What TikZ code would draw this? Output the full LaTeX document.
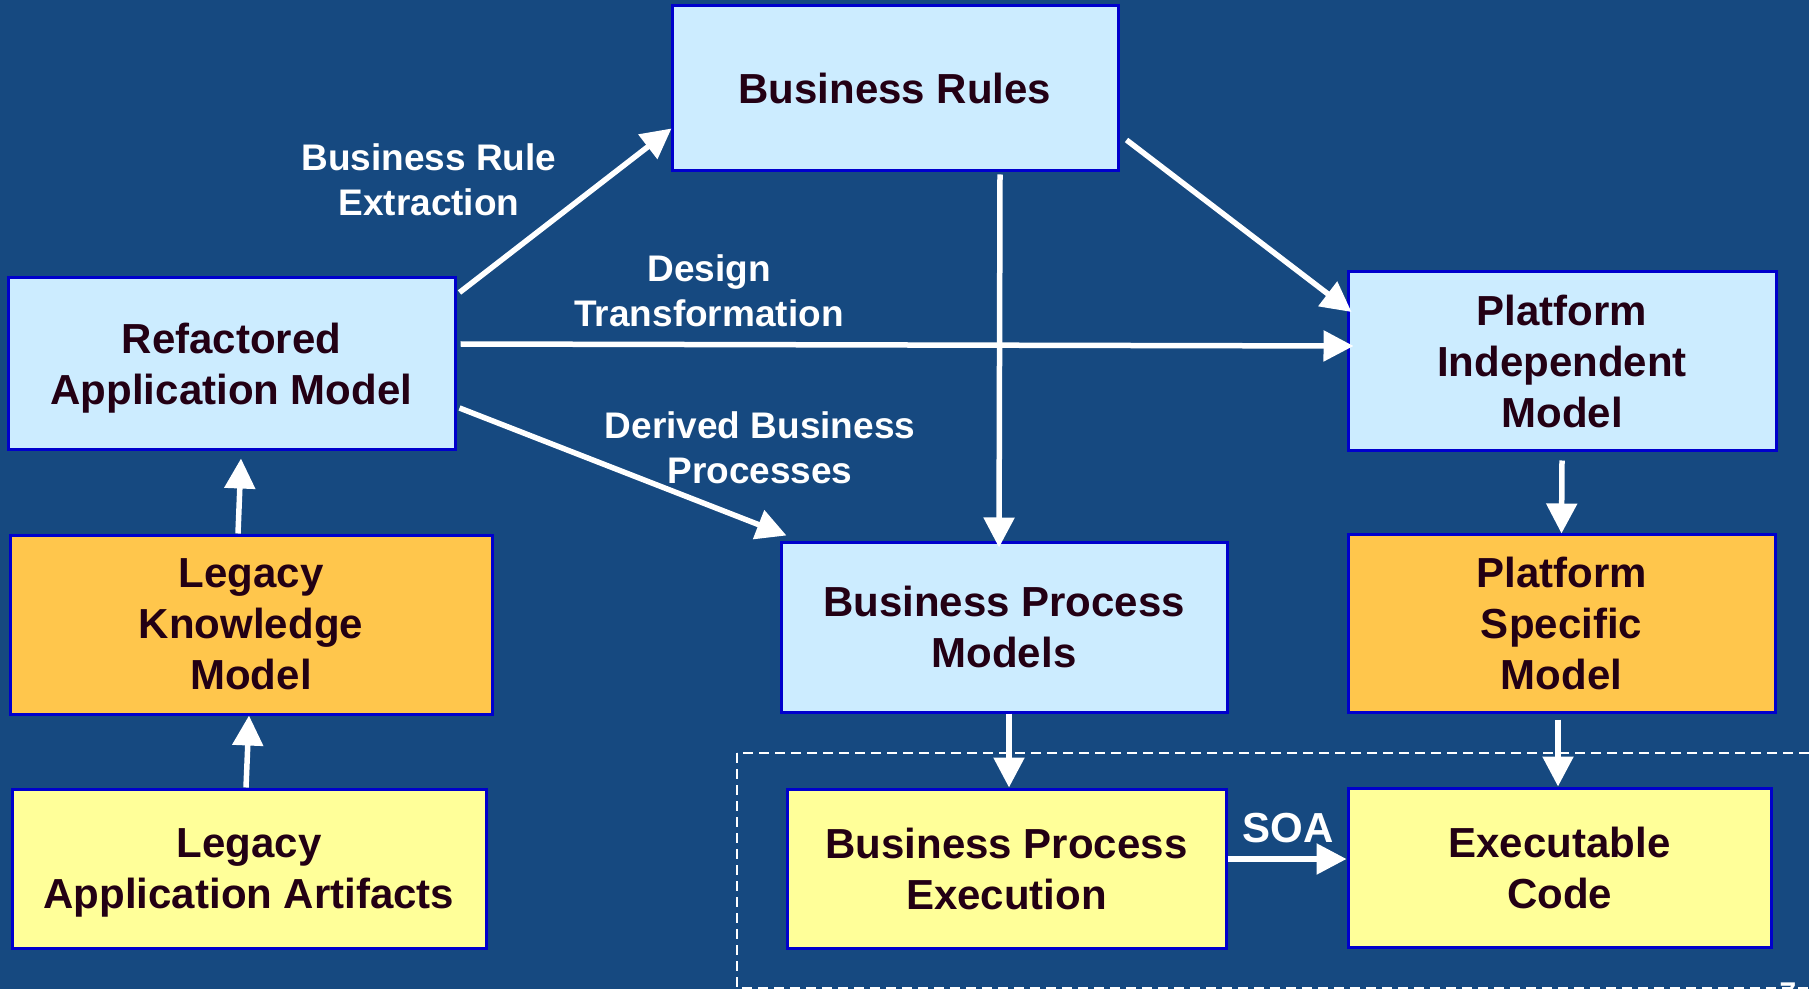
\documentclass[tikz,border=0pt]{standalone}
\usepackage{fontspec}
\setmainfont{Liberation Sans}
\usetikzlibrary{positioning,arrows.meta,calc}
\definecolor{slideblue}{RGB}{22,73,128}
\definecolor{boxblue}{RGB}{204,236,255}
\definecolor{boxorange}{RGB}{255,198,76}
\definecolor{boxyellow}{RGB}{255,255,153}
\definecolor{boxline}{RGB}{0,0,204}
\definecolor{boxtext}{RGB}{35,0,20}
\tikzstyle{ModelNode}=[draw=boxline, line width=1.5pt, inner sep=0pt, align=center, text depth=0pt, text=boxtext, font=\fontsize{21}{25.5}\selectfont\bfseries]
\tikzstyle{BlueNode}=[ModelNode, fill=boxblue]
\tikzstyle{OrangeNode}=[ModelNode, fill=boxorange]
\tikzstyle{YellowNode}=[ModelNode, fill=boxyellow]
\tikzstyle{FlowLabel}=[text=white, align=center, inner sep=0pt, font=\fontsize{18.5}{22.5}\selectfont\bfseries]
\tikzstyle{Flow}=[draw=white, line width=2.75pt, -{Triangle[length=15pt,width=15pt]}]

\begin{document}
\begin{tikzpicture}[x=0.5pt, y=-0.5pt]
      \useasboundingbox (0,0) rectangle (1809,989);
      \fill[slideblue] (0,0) rectangle (1809,989);
      \draw[white, line width=0.75pt, dash pattern=on 5pt off 3pt] (737,753) rectangle (1830,988);
      \node[BlueNode, minimum width=223pt, minimum height=82.5pt] (rules) at (895,88.5) {Business Rules}; 
      \node[BlueNode, minimum width=223.5pt, minimum height=85.5pt] (ram) at (231.5,363.5) {Refactored\\Application Model}; 
      \node[OrangeNode, minimum width=241pt, minimum height=89.5pt] (lkm) at (251,624.5) {Legacy\\Knowledge\\Model}; 
      \node[YellowNode, minimum width=237pt, minimum height=79.5pt] (laa) at (249,868.5) {Legacy\\Application Artifacts}; 
      \node[BlueNode, minimum width=223pt, minimum height=85pt] (bpm) at (1004,627) {Business Process\\Models}; 
      \node[YellowNode, minimum width=219.5pt, minimum height=79.5pt] (bpe) at (1006.5,868.5) {Business Process\\Execution}; 
      \node[BlueNode, minimum width=214pt, minimum height=89pt] (pim) at (1562,361) {Platform\\Independent\\Model}; 
      \node[OrangeNode, minimum width=213.5pt, minimum height=89pt] (psm) at (1561.5,623) {Platform\\Specific\\Model}; 
      \node[YellowNode, minimum width=211.5pt, minimum height=79.5pt] (ec) at (1559.5,867.5) {Executable\\Code}; 
      \node[FlowLabel] (extract) at (429,180) {Business Rule\\Extraction}; 
      \node[FlowLabel] (design) at (709,291) {Design\\Transformation}; 
      \node[FlowLabel] (derived) at (760,448) {Derived Business\\Processes}; 
      \node[FlowLabel, font=\fontsize{21}{25.5}\selectfont\bfseries] (soa) at (1288,828) {SOA}; 
      \node[text=white, inner sep=0pt, anchor=north, font=\fontsize{15}{15}\selectfont\bfseries] (slideno) at (1788,982) {7};
      \draw[Flow] ($(ram.north east)+(3,16)$) -- ($(rules.south west)+(1,-44)$); 
      \draw[Flow] ($(ram.east)+(4,-19.5)$) -- ($(pim.west)+(7,-15)$); 
      \draw[Flow] ($(ram.east)+(3,44.5)$) -- ($(bpm.north west)+(7,-5)$); 
      \draw[Flow] ($(rules.south)+(105,2)$) -- ($(bpm.north)+(-5,7)$); 
      \draw[Flow] ($(rules.east)+(7,51.5)$) -- ($(pim.west)+(5,-49)$); 
      \draw[Flow] ($(pim.south)+(0,9)$) -- ($(psm.north)+(0,1)$); 
      \draw[Flow] ($(lkm.north)+(-13,0)$) -- ($(ram.south)+(9.5,8)$); 
      \draw[Flow] ($(laa.north)+(-3,0)$) -- ($(lkm.south)+(-2,0)$); 
      \draw[Flow] ($(bpm.south)+(5,0)$) -- ($(bpe.north)+(2.5,0)$); 
      \draw[Flow] ($(psm.south)+(-3.5,6)$) -- ($(ec.north)+(-1.5,0)$); 
      \draw[Flow] ($(bpe.east)+(0,-9.5)$) -- ($(ec.west)+(0,-8.5)$); 
    \end{tikzpicture}
\end{document}
